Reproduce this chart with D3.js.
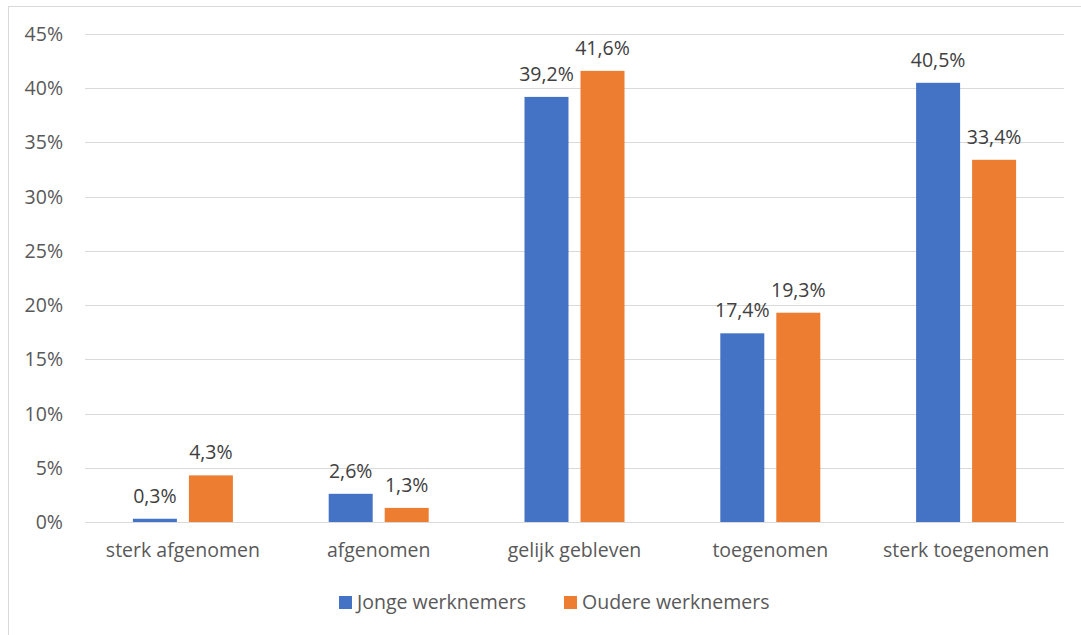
<!DOCTYPE html>
<html><head><meta charset="utf-8">
<script src="https://cdn.jsdelivr.net/npm/d3@7"></script>
<style>body{margin:0;background:#fff}svg{display:block}text{font-family:"Open Sans","Noto Sans",sans-serif;fill:#595959}</style>
</head><body>
<script>
const categories = ["sterk afgenomen","afgenomen","gelijk gebleven","toegenomen","sterk toegenomen"];
const seriesNames = ["Jonge werknemers","Oudere werknemers"];
const jonge = [0.3, 2.6, 39.2, 17.4, 40.5];
const oudere = [4.3, 1.3, 41.6, 19.3, 33.4];
const yTicks = [0,5,10,15,20,25,30,35,40,45];
const colors = ["#4472C4","#ED7D31"];

const W = 1081, H = 635;
const svg = d3.select("body").append("svg").attr("width", W).attr("height", H);
svg.append("rect").attr("x",8.5).attr("y",6.5).attr("width",1100).attr("height",660)
  .attr("fill","#fff").attr("stroke","#d9d9d9").attr("stroke-width",1);

const x0 = d3.scaleBand().domain(categories).range([85,1064]).paddingInner(0).paddingOuter(0);
const bw = x0.bandwidth();
const x1 = d3.scaleBand().domain(seriesNames).range([bw/2-50, bw/2+50]).paddingInner(0.2143).paddingOuter(0);
const y = d3.scaleLinear().domain([0,45]).range([522,34]);

const fs = 19.5;
// gridlines
svg.append("g").selectAll("line").data(yTicks).join("line")
  .attr("x1",85).attr("x2",1064).attr("y1",d=>Math.round(y(d))+0.5).attr("y2",d=>Math.round(y(d))+0.5)
  .attr("stroke","#d9d9d9").attr("stroke-width",1);
// y tick labels
svg.append("g").selectAll("text").data(yTicks).join("text")
  .attr("x",63).attr("y",d=>y(d)+7).attr("text-anchor","end").attr("font-size",fs)
  .text(d=>d+"%");

const series = [jonge, oudere];
const fmt = v => d3.format(".1f")(v).replace(".",",")+"%";
series.forEach((vals,si)=>{
  const g = svg.append("g");
  g.selectAll("rect").data(vals).join("rect")
    .attr("x",(d,i)=>x0(categories[i])+x1(seriesNames[si]))
    .attr("width",x1.bandwidth())
    .attr("y",d=>y(d)).attr("height",d=>y(0)-y(d))
    .attr("fill",colors[si]);
  g.selectAll("text").data(vals).join("text")
    .attr("x",(d,i)=>x0(categories[i])+x1(seriesNames[si])+x1.bandwidth()/2)
    .attr("y",d=>y(d)-16).attr("text-anchor","middle").attr("font-size",fs)
    .style("fill","#404040")
    .text(fmt);
});
// category labels
svg.append("g").selectAll("text").data(categories).join("text")
  .attr("x",d=>x0(d)+bw/2).attr("y",557).attr("text-anchor","middle").attr("font-size",fs)
  .text(d=>d);
// legend
const legX = [339, 564];
seriesNames.forEach((n,i)=>{
  svg.append("rect").attr("x",legX[i]).attr("y",596).attr("width",13).attr("height",13).attr("fill",colors[i]);
  svg.append("text").attr("x",legX[i]+18).attr("y",609).attr("font-size",fs).text(n);
});
</script>
</body></html>
